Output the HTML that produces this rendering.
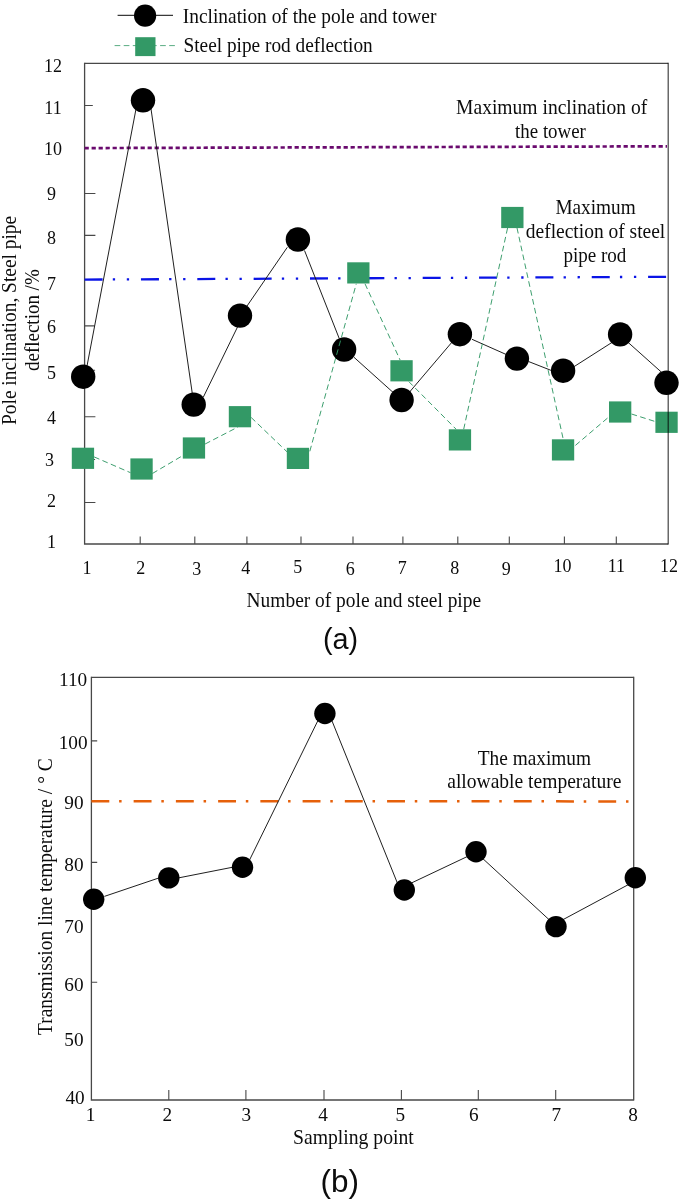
<!DOCTYPE html>
<html><head><meta charset="utf-8"><title>chart</title>
<style>html,body{margin:0;padding:0;background:#fff}body{width:685px;height:1203px;overflow:hidden;font-family:"Liberation Serif",serif}</style>
</head><body>
<svg width="685" height="1203" viewBox="0 0 685 1203" style="display:block;will-change:transform">
<rect width="685" height="1203" fill="#fff"/>
<g font-family="Liberation Serif, serif" fill="#0c0c0c">
<text x="53.0" y="72.4" font-size="18" text-anchor="middle">12</text>
<text x="53.0" y="114.2" font-size="18" text-anchor="middle">11</text>
<text x="53.0" y="154.9" font-size="18" text-anchor="middle">10</text>
<text x="51.6" y="199.9" font-size="18" text-anchor="middle">9</text>
<text x="51.6" y="243.9" font-size="18" text-anchor="middle">8</text>
<text x="51.6" y="290.4" font-size="18" text-anchor="middle">7</text>
<text x="51.6" y="333.1" font-size="18" text-anchor="middle">6</text>
<text x="51.6" y="379.3" font-size="18" text-anchor="middle">5</text>
<text x="51.6" y="423.8" font-size="18" text-anchor="middle">4</text>
<text x="49.6" y="465.7" font-size="18" text-anchor="middle">3</text>
<text x="51.6" y="507.2" font-size="18" text-anchor="middle">2</text>
<text x="51.6" y="548.0" font-size="18" text-anchor="middle">1</text>
<text x="86.9" y="574.2" font-size="18" text-anchor="middle">1</text>
<text x="140.7" y="574.2" font-size="18" text-anchor="middle">2</text>
<text x="196.8" y="575.2" font-size="18" text-anchor="middle">3</text>
<text x="245.8" y="573.5" font-size="18" text-anchor="middle">4</text>
<text x="297.8" y="573.0" font-size="18" text-anchor="middle">5</text>
<text x="350.2" y="574.5" font-size="18" text-anchor="middle">6</text>
<text x="402.2" y="573.5" font-size="18" text-anchor="middle">7</text>
<text x="454.7" y="573.5" font-size="18" text-anchor="middle">8</text>
<text x="506.3" y="574.5" font-size="18" text-anchor="middle">9</text>
<text x="562.5" y="572" font-size="18" text-anchor="middle">10</text>
<text x="616.3" y="572" font-size="18" text-anchor="middle">11</text>
<text x="668.9" y="572" font-size="18" text-anchor="middle">12</text>
<path d="M84.6 63.4H668.2" stroke="#484848" stroke-width="1.2" fill="none"/>
<path d="M84.6 62.8V544.0H668.2" stroke="#484848" stroke-width="1.3" fill="none"/>
<path d="M84.6 105.5h8.2M84.6 193.5h10.8M84.6 235.4h10.8M84.6 325.9h10M84.6 370.2h10.5M84.6 416.7h10.8M84.6 459.5h10.5M84.6 502.5h10.8M140.2 544.0v-7.6M194.8 544.0v-7.6M246.9 544.0v-7.6M301.0 544.0v-7.6M353.0 544.0v-7.6M402.9 544.0v-7.6M457.8 544.0v-7.6M509.3 544.0v-7.6M564.4 544.0v-7.6M616.3 544.0v-7.6" stroke="#484848" stroke-width="1.1" fill="none"/>
<path d="M84.6 148.1L667 146.3" stroke="#6a0a6e" stroke-width="2.7" stroke-dasharray="4.2 2.8" fill="none"/>
<path d="M84.6 279.6L666.2 276.8" stroke="#0a14e6" stroke-width="2.3" stroke-dasharray="18 10.2 2.3 11.7 2.3 11.85" fill="none"/>
<path d="M87.0 366.0L136.1 108.5M150.9 108.2L192.3 393.5M203.3 397.2L237.5 327.0M246.9 306.2L287.3 247.3M304.5 250.5L339.3 338.7M354.0 357.3L393.2 392.5M409.5 392.1L452.0 342.1M472.0 339.3L507.6 355.1M528.5 361.5L551.9 370.7M574.1 366.6L612.2 342.3M628.0 342.3L661.7 372.4" stroke="#1a1a1a" stroke-width="0.98" fill="none"/>
<circle cx="83.2" cy="376.7" r="12.2" fill="#000"/>
<circle cx="143.0" cy="100.3" r="12.2" fill="#000"/>
<circle cx="193.7" cy="404.6" r="12.2" fill="#000"/>
<circle cx="240.0" cy="315.6" r="12.2" fill="#000"/>
<circle cx="297.9" cy="239.5" r="12.2" fill="#000"/>
<circle cx="344.1" cy="349.5" r="12.2" fill="#000"/>
<circle cx="401.6" cy="400.0" r="12.2" fill="#000"/>
<circle cx="459.9" cy="334.2" r="12.2" fill="#000"/>
<circle cx="516.9" cy="358.6" r="12.2" fill="#000"/>
<circle cx="563.1" cy="370.7" r="12.2" fill="#000"/>
<circle cx="620.1" cy="334.4" r="12.2" fill="#000"/>
<circle cx="666.5" cy="382.8" r="12.2" fill="#000"/>
<path d="M94.1 456.9L130.5 472.7M152.4 473.5L182.9 455.5M205.1 444.0L238.0 427.0M251.2 417.5L287.0 451.8M309.8 451.3L356.3 283.8M365.0 283.8L400.1 360.0M408.8 381.6L456.1 429.2M463.7 429.2L507.6 227.9M517.0 227.9L563.2 439.1M575.4 445.4L609.6 416.3M631.5 414.0L655.1 421.5" stroke="#339966" stroke-width="1" stroke-dasharray="5.7 3.4" fill="none" opacity="0.95"/>
<rect x="71.8" y="447.7" width="22.3" height="21.2" fill="#339966"/>
<rect x="130.4" y="458.4" width="22.3" height="21.2" fill="#339966"/>
<rect x="182.8" y="437.4" width="22.3" height="21.2" fill="#339966"/>
<rect x="228.8" y="406.1" width="22.3" height="21.2" fill="#339966"/>
<rect x="286.8" y="447.8" width="22.3" height="21.2" fill="#339966"/>
<rect x="347.2" y="262.3" width="22.3" height="21.2" fill="#339966"/>
<rect x="390.4" y="360.2" width="22.3" height="21.2" fill="#339966"/>
<rect x="448.8" y="429.3" width="22.3" height="21.2" fill="#339966"/>
<rect x="501.2" y="206.9" width="22.3" height="21.2" fill="#339966"/>
<rect x="551.9" y="439.3" width="22.3" height="21.2" fill="#339966"/>
<rect x="609.0" y="401.4" width="22.3" height="21.2" fill="#339966"/>
<rect x="655.4" y="411.7" width="22.3" height="21.2" fill="#339966"/>
<path d="M668.2 62.8V544.6" stroke="#000" stroke-opacity="0.74" stroke-width="1.2" fill="none"/>
<path d="M117.6 15.4H173" stroke="#3a3a3a" stroke-width="1.1"/>
<circle cx="145.1" cy="15.7" r="11.1" fill="#000"/>
<path d="M114.6 45.6H175" stroke="#339966" stroke-width="0.95" stroke-dasharray="5.7 3.4" opacity="0.85"/>
<rect x="135.2" y="37.2" width="20.3" height="18.9" fill="#339966"/>
<text transform="translate(182.8 23.1) scale(0.9559 1)" font-size="20.3">Inclination of the pole and tower</text>
<text transform="translate(183.5 52.3) scale(0.9518 1)" font-size="20.3">Steel pipe rod deflection</text>
<text transform="translate(456.1 114.3) scale(0.9639 1)" font-size="20.3">Maximum inclination of</text>
<text transform="translate(515.1 137.6) scale(0.9304 1)" font-size="20.3">the tower</text>
<text transform="translate(555.4 214.1) scale(0.9494 1)" font-size="20.3">Maximum</text>
<text transform="translate(525.8 237.6) scale(0.9600 1)" font-size="20.3">deflection of steel</text>
<text transform="translate(563.4 262.0) scale(0.9391 1)" font-size="20.3">pipe rod</text>
<text transform="translate(246.6 607.4) scale(0.9563 1)" font-size="20.3">Number of pole and steel pipe</text>
<text transform="translate(16.0 425.0) rotate(-90) scale(0.9563 1)" font-size="20.3">Pole inclination, Steel pipe</text>
<text transform="translate(39.4 371.0) rotate(-90) scale(0.9358 1)" font-size="20.3">deflection /%</text>
<text transform="translate(323.0 648.8) scale(0.9600 1)" font-size="30" font-family="Liberation Sans, sans-serif">(a)</text>
<path d="M91.4 677.4H633.7" stroke="#484848" stroke-width="1.2" fill="none"/>
<path d="M91.4 676.8V1100.0H633.7" stroke="#484848" stroke-width="1.3" fill="none"/>
<path d="M633.7 676.8V1100.6" stroke="#484848" stroke-width="1.3" fill="none"/>
<path d="M91.4 740.9h5.8M91.4 862.4h5.8M91.4 982.2h5.8M168.8 1100.0v-10M245.9 1100.0v-10M324.0 1100.0v-10M401.4 1100.0v-10M478.3 1100.0v-10M555.7 1100.0v-10" stroke="#484848" stroke-width="1.1" fill="none"/>
<text transform="translate(73.1 685.6) scale(1.07 1)" font-size="18" text-anchor="middle">110</text>
<text transform="translate(73.1 749.4) scale(1.07 1)" font-size="18" text-anchor="middle">100</text>
<text transform="translate(73.9 808.5) scale(1.07 1)" font-size="18" text-anchor="middle">90</text>
<text transform="translate(73.9 871.0) scale(1.07 1)" font-size="18" text-anchor="middle">80</text>
<text transform="translate(73.9 932.5) scale(1.07 1)" font-size="18" text-anchor="middle">70</text>
<text transform="translate(73.9 990.6) scale(1.07 1)" font-size="18" text-anchor="middle">60</text>
<text transform="translate(73.9 1045.8) scale(1.07 1)" font-size="18" text-anchor="middle">50</text>
<text transform="translate(75.0 1104.0) scale(1.07 1)" font-size="18" text-anchor="middle">40</text>
<text transform="translate(90.6 1120.8) scale(1.07 1)" font-size="18" text-anchor="middle">1</text>
<text transform="translate(167.3 1120.8) scale(1.07 1)" font-size="18" text-anchor="middle">2</text>
<text transform="translate(246.4 1120.8) scale(1.07 1)" font-size="18" text-anchor="middle">3</text>
<text transform="translate(323.0 1120.8) scale(1.07 1)" font-size="18" text-anchor="middle">4</text>
<text transform="translate(400.4 1120.8) scale(1.07 1)" font-size="18" text-anchor="middle">5</text>
<text transform="translate(473.8 1120.8) scale(1.07 1)" font-size="18" text-anchor="middle">6</text>
<text transform="translate(556.2 1120.8) scale(1.07 1)" font-size="18" text-anchor="middle">7</text>
<text transform="translate(633.1 1120.8) scale(1.07 1)" font-size="18" text-anchor="middle">8</text>
<path d="M91.4 801.2L632 801.4" stroke="#e6600a" stroke-width="2.5" stroke-dasharray="17.9 9.8 2.5 12.04" fill="none"/>
<path d="M104.4 896.4L159.1 877.9M178.5 877.9L232.8 867.2M249.4 860.3L318.0 720.4M331.8 720.4L397.4 883.1M411.2 883.1L467.8 856.3M482.9 858.7L549.1 919.7M562.9 919.7L628.4 884.6" stroke="#1a1a1a" stroke-width="0.98" fill="none"/>
<circle cx="93.7" cy="899.3" r="10.7" fill="#000"/>
<circle cx="168.8" cy="877.9" r="10.7" fill="#000"/>
<circle cx="242.5" cy="867.2" r="10.7" fill="#000"/>
<circle cx="324.9" cy="713.5" r="10.7" fill="#000"/>
<circle cx="404.3" cy="890.0" r="10.7" fill="#000"/>
<circle cx="476.0" cy="851.8" r="10.7" fill="#000"/>
<circle cx="556.0" cy="926.6" r="10.7" fill="#000"/>
<circle cx="635.3" cy="877.7" r="10.7" fill="#000"/>
<text transform="translate(477.8 764.8) scale(0.9524 1)" font-size="20.3">The maximum</text>
<text transform="translate(447.2 788.4) scale(0.9634 1)" font-size="20.3">allowable temperature</text>
<text transform="translate(293.0 1143.5) scale(0.9701 1)" font-size="20.3">Sampling point</text>
<text transform="translate(52.3 1035) rotate(-90) scale(0.9594 1)" font-size="20.3">Transmission line temperature / ° C</text>
<text transform="translate(320.6 1192.0) scale(1.0261 1)" font-size="30.7" font-family="Liberation Sans, sans-serif">(b)</text>
</g></svg>
</body></html>
